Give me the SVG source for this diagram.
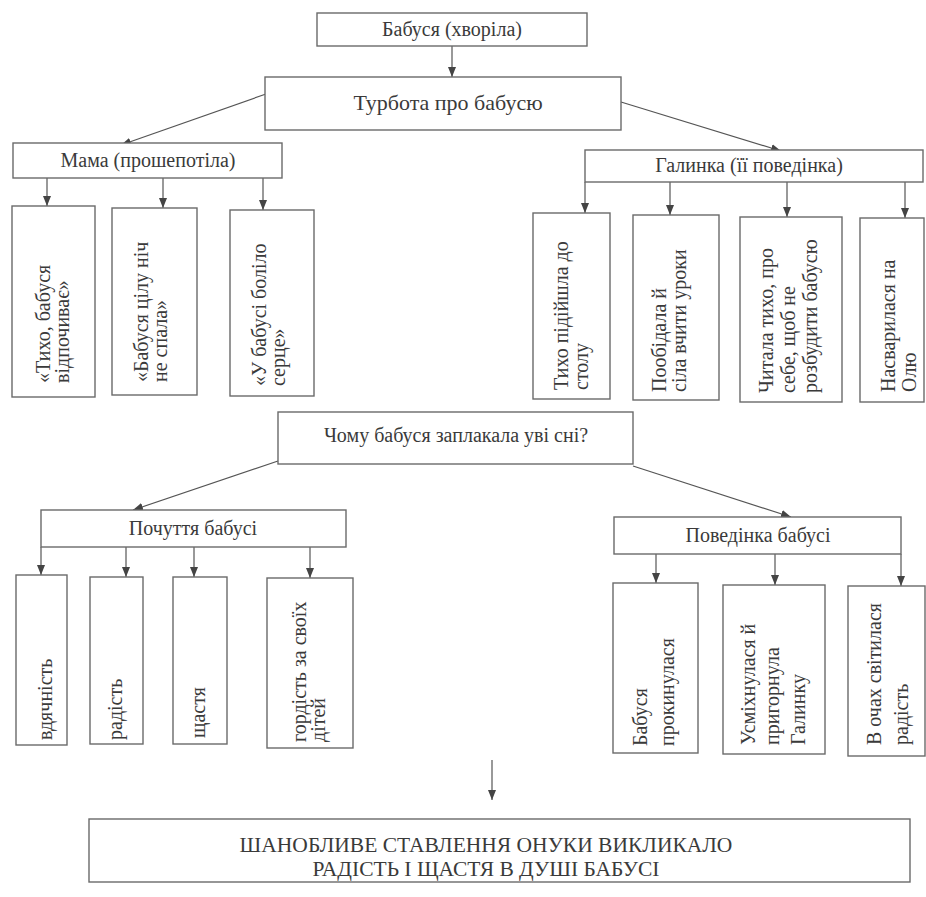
<svg xmlns="http://www.w3.org/2000/svg" width="926" height="897" viewBox="0 0 926 897">
<style>
.box{fill:#ffffff;stroke:#6a6a6a;stroke-width:1.4}
.t{font-family:"Liberation Serif","Times New Roman",serif;fill:#3a3a3a}
.h{font-size:20px;text-anchor:middle}
.v{font-size:20px}
.c{stroke:#555;stroke-width:1.2;fill:none;marker-end:url(#ah)}
</style>
<defs>
<marker id="ah" markerUnits="userSpaceOnUse" markerWidth="10" markerHeight="10" viewBox="0 0 10 10" refX="10" refY="5" orient="auto">
<path d="M0,1 L10,5 L0,9 Z" fill="#444"/>
</marker>
</defs>
<rect width="926" height="897" fill="#ffffff"/>

<g id="connectors">
<line class="c" x1="452" y1="46" x2="452" y2="77"/>
<line class="c" x1="266" y1="94" x2="121" y2="145"/>
<line class="c" x1="621" y1="102" x2="781" y2="151"/>
<line class="c" x1="47" y1="178" x2="47" y2="206"/>
<line class="c" x1="163" y1="178" x2="163" y2="208"/>
<line class="c" x1="263" y1="178" x2="263" y2="210"/>
<line class="c" x1="585" y1="182" x2="585" y2="213"/>
<line class="c" x1="670" y1="182" x2="670" y2="215"/>
<line class="c" x1="787" y1="182" x2="787" y2="217"/>
<line class="c" x1="905" y1="182" x2="905" y2="218"/>
<line class="c" x1="278" y1="461" x2="133" y2="510"/>
<line class="c" x1="633" y1="466" x2="791" y2="517"/>
<line class="c" x1="41" y1="547" x2="41" y2="575"/>
<line class="c" x1="126" y1="547" x2="126" y2="577"/>
<line class="c" x1="194" y1="547" x2="194" y2="577"/>
<line class="c" x1="310" y1="547" x2="310" y2="578"/>
<line class="c" x1="656" y1="554" x2="656" y2="583"/>
<line class="c" x1="775" y1="554" x2="775" y2="585"/>
<line class="c" x1="901" y1="554" x2="901" y2="586"/>
<line class="c" x1="492" y1="760" x2="492" y2="800"/>
</g>

<g id="babusia">
<rect class="box" x="317" y="13" width="270" height="33"/>
<text class="t h" x="452" y="36">Бабуся (хворіла)</text>
</g>
<g id="turbota">
<rect class="box" x="265" y="77" width="356" height="53"/>
<text class="t h" x="448" y="110" style="font-size:22px">Турбота про бабусю</text>
</g>
<g id="mama">
<rect class="box" x="13" y="143" width="269" height="35"/>
<text class="t h" x="148" y="167">Мама (прошепотіла)</text>
</g>
<g id="halynka">
<rect class="box" x="585" y="150" width="338" height="32"/>
<text class="t h" x="749" y="172">Галинка (її поведінка)</text>
</g>

<g id="m1">
<rect class="box" x="12" y="206" width="83" height="191"/>
<text class="t v" transform="translate(50,383) rotate(-90)"><tspan x="0" y="0">«Тихо, бабуся</tspan><tspan x="0" y="19">відпочиває»</tspan></text>
</g>
<g id="m2">
<rect class="box" x="112" y="208" width="85" height="187"/>
<text class="t v" transform="translate(148,382) rotate(-90)"><tspan x="0" y="0">«Бабуся цілу ніч</tspan><tspan x="0" y="19">не спала»</tspan></text>
</g>
<g id="m3">
<rect class="box" x="230" y="210" width="84" height="186"/>
<text class="t v" transform="translate(266,386) rotate(-90)"><tspan x="0" y="0">«У бабусі боліло</tspan><tspan x="0" y="19">серце»</tspan></text>
</g>

<g id="g1">
<rect class="box" x="533" y="213" width="77" height="186"/>
<text class="t v" transform="translate(568,390) rotate(-90)"><tspan x="0" y="0">Тихо підійшла до</tspan><tspan x="0" y="20">столу</tspan></text>
</g>
<g id="g2">
<rect class="box" x="633" y="215" width="86" height="185"/>
<text class="t v" transform="translate(666,392) rotate(-90)"><tspan x="0" y="0">Пообідала й</tspan><tspan x="0" y="20">сіла вчити уроки</tspan></text>
</g>
<g id="g3">
<rect class="box" x="740" y="217" width="102" height="185"/>
<text class="t v" transform="translate(773,393) rotate(-90)"><tspan x="0" y="0">Читала тихо, про</tspan><tspan x="0" y="22">себе, щоб не</tspan><tspan x="0" y="44">розбудити бабусю</tspan></text>
</g>
<g id="g4">
<rect class="box" x="860" y="218" width="64" height="184"/>
<text class="t v" transform="translate(895,392) rotate(-90)"><tspan x="0" y="0">Насварилася на</tspan><tspan x="0" y="21">Олю</tspan></text>
</g>

<g id="chomu">
<rect class="box" x="278" y="412" width="355" height="52"/>
<text class="t h" x="456" y="442">Чому бабуся заплакала уві сні?</text>
</g>
<g id="pochuttia">
<rect class="box" x="41" y="510" width="305" height="37"/>
<text class="t h" x="193" y="535">Почуття бабусі</text>
</g>
<g id="povedinka">
<rect class="box" x="614" y="517" width="287" height="37"/>
<text class="t h" x="758" y="542">Поведінка бабусі</text>
</g>

<g id="p1">
<rect class="box" x="16" y="575" width="51" height="170"/>
<text class="t v" transform="translate(52,740) rotate(-90)">вдячність</text>
</g>
<g id="p2">
<rect class="box" x="90" y="577" width="53" height="167"/>
<text class="t v" transform="translate(122,740) rotate(-90)">радість</text>
</g>
<g id="p3">
<rect class="box" x="173" y="577" width="54" height="167"/>
<text class="t v" transform="translate(205,738) rotate(-90)">щастя</text>
</g>
<g id="p4">
<rect class="box" x="267" y="578" width="86" height="170"/>
<text class="t v" transform="translate(306,742) rotate(-90)"><tspan x="0" y="0">гордість за своїх</tspan><tspan x="0" y="19">дітей</tspan></text>
</g>

<g id="b1">
<rect class="box" x="613" y="583" width="85" height="170"/>
<text class="t v" transform="translate(647,746) rotate(-90)"><tspan x="0" y="0">Бабуся</tspan><tspan x="0" y="27">прокинулася</tspan></text>
</g>
<g id="b2">
<rect class="box" x="723" y="585" width="102" height="169"/>
<text class="t v" transform="translate(755,745) rotate(-90)"><tspan x="0" y="0">Усміхнулася й</tspan><tspan x="0" y="24">пригорнула</tspan><tspan x="0" y="50">Галинку</tspan></text>
</g>
<g id="b3">
<rect class="box" x="848" y="586" width="77" height="170"/>
<text class="t v" transform="translate(881,745) rotate(-90)"><tspan x="0" y="0">В очах світилася</tspan><tspan x="0" y="27">радість</tspan></text>
</g>

<g id="result">
<rect class="box" x="89" y="819" width="821" height="63"/>
<text class="t h" style="font-size:21.5px" x="486" y="852">ШАНОБЛИВЕ СТАВЛЕННЯ ОНУКИ ВИКЛИКАЛО</text>
<text class="t h" style="font-size:21.5px" x="486" y="876">РАДІСТЬ І ЩАСТЯ В ДУШІ БАБУСІ</text>
</g>
</svg>
